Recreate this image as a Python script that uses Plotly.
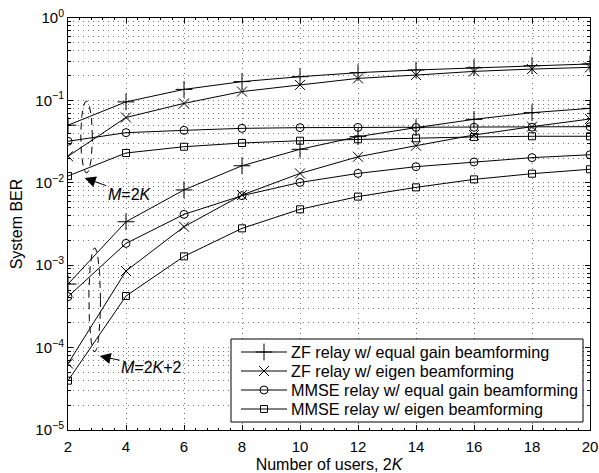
import numpy as np
import plotly.graph_objects as go

users = [2, 4, 6, 8, 10, 12, 14, 16, 18, 20]

# M = 2K (upper set)
zf_eq_a = [0.050, 0.096, 0.136, 0.169, 0.194, 0.217, 0.234, 0.249, 0.264, 0.277]
zf_eig_a = [0.021, 0.062, 0.092, 0.128, 0.154, 0.185, 0.203, 0.225, 0.240, 0.252]
mm_eq_a = [0.0319, 0.0406, 0.0433, 0.0458, 0.0467, 0.0470, 0.0470, 0.0472, 0.0473, 0.0480]
mm_eig_a = [0.0121, 0.0230, 0.0274, 0.0304, 0.0324, 0.0337, 0.0347, 0.0360, 0.0367, 0.0367]

# M = 2K+2 (lower set)
zf_eq_b = [5.9e-4, 3.37e-3, 8.2e-3, 0.0161, 0.0255, 0.0363, 0.0467, 0.0589, 0.071, 0.080]
zf_eig_b = [6.4e-5, 8.5e-4, 2.93e-3, 7.1e-3, 0.013, 0.0207, 0.0282, 0.038, 0.048, 0.0595]
mm_eq_b = [4.15e-4, 1.84e-3, 4.14e-3, 6.98e-3, 0.0101, 0.013, 0.0157, 0.0179, 0.0202, 0.0219]
mm_eig_b = [3.97e-5, 4.23e-4, 1.28e-3, 2.8e-3, 4.77e-3, 6.8e-3, 8.8e-3, 0.011, 0.0129, 0.0146]

names = ["ZF relay w/ equal gain beamforming",
         "ZF relay w/ eigen beamforming",
         "MMSE relay w/ equal gain beamforming",
         "MMSE relay w/ eigen beamforming"]
symbols = ["cross-thin-open", "x-thin-open", "circle-open", "square-open"]
sizes = [12, 10, 8, 7]

y_ticks = [1e-5, 1e-4, 1e-3, 1e-2, 1e-1, 1]
y_ticktext = ["10<sup>−5</sup>", "10<sup>−4</sup>", "10<sup>−3</sup>",
              "10<sup>−2</sup>", "10<sup>−1</sup>", "10<sup>0</sup>"]
x_ticks = [2, 4, 6, 8, 10, 12, 14, 16, 18, 20]

FONT = "Liberation Sans, Arial, Helvetica, sans-serif"

# plot-area geometry (pixels) used to place the legend box
L, R, T, B = 68, 590, 18, 430
def fx(px):
    return (px - L) / (R - L)
def fy(py):
    return (B - py) / (B - T)

fig = go.Figure()

series_a = [zf_eq_a, zf_eig_a, mm_eq_a, mm_eig_a]
series_b = [zf_eq_b, zf_eig_b, mm_eq_b, mm_eig_b]
for i in range(4):
    mk = dict(symbol=symbols[i], size=sizes[i], color="black",
              line=dict(color="black", width=1))
    for ser in (series_a[i], series_b[i]):
        fig.add_trace(go.Scatter(x=users, y=ser, mode="lines+markers",
                                 name=names[i], showlegend=False,
                                 line=dict(color="black", width=1), marker=mk))

# dashed ellipses marking the two groups
def ellipse(cx, cy_log, a, b_log):
    t = np.linspace(0, 2 * np.pi, 120)
    return cx + a * np.cos(t), 10 ** (cy_log + b_log * np.sin(t))

for (cx, cy, a, b) in [(2.64, -1.444, 0.2, 0.437), (2.92, -3.42, 0.2, 0.63)]:
    ex, ey = ellipse(cx, cy, a, b)
    fig.add_trace(go.Scatter(x=ex, y=ey, mode="lines", showlegend=False,
                             hoverinfo="skip",
                             line=dict(color="black", width=1, dash="7px,5px")))

# legend drawn on an overlay axis pair spanning the plot area (0..1)
bx0, bx1, by0, by1 = fx(231), fx(583), fy(422), fy(339)
fig.add_trace(go.Scatter(x=[bx0, bx1, bx1, bx0, bx0], y=[by0, by0, by1, by1, by0],
                         xaxis="x2", yaxis="y2", mode="lines", fill="toself",
                         fillcolor="white", line=dict(color="black", width=1),
                         showlegend=False, hoverinfo="skip"))
row_py = [352, 371, 390, 409]
lx0, lx1 = fx(241), fx(287)
lxm = (lx0 + lx1) / 2
for i in range(4):
    ry = fy(row_py[i])
    fig.add_trace(go.Scatter(x=[lx0, lx1], y=[ry, ry], xaxis="x2", yaxis="y2",
                             mode="lines", line=dict(color="black", width=1),
                             showlegend=False, hoverinfo="skip"))
    fig.add_trace(go.Scatter(x=[lxm], y=[ry], xaxis="x2", yaxis="y2",
                             mode="markers", showlegend=False, hoverinfo="skip",
                             marker=dict(symbol=symbols[i], size=sizes[i],
                                         color="black",
                                         line=dict(color="black", width=1))))
    fig.add_annotation(x=fx(289), y=ry, xref="x2", yref="y2", text=names[i],
                       showarrow=False, xanchor="left", yanchor="middle",
                       font=dict(family=FONT, size=16.2, color="black"))

minor_vals = [k * 10.0 ** e for e in range(-5, 0) for k in range(2, 10)]
grid_dash = "1px,4px"
grid_col = "#777"

fig.update_layout(
    width=599, height=473, autosize=False,
    margin=dict(l=L, r=599 - R, t=T, b=473 - B),
    paper_bgcolor="white", plot_bgcolor="white",
    font=dict(family=FONT, size=15, color="black"),
    showlegend=False,
    xaxis=dict(range=[2, 20], tickvals=x_ticks, ticks="inside", ticklen=5,
               tickcolor="black", showline=True, linecolor="black", linewidth=1,
               mirror="ticks", showgrid=True, gridcolor=grid_col, gridwidth=1,
               griddash=grid_dash, zeroline=False, ticklabelstandoff=3,
               automargin=False, tickfont=dict(size=15),
               title=dict(text="Number of users, 2<i>K</i>", standoff=5,
                          font=dict(size=16)),
               minor=dict(dtick=0.4, tick0=2, ticks="inside", ticklen=2,
                          tickcolor="black", showgrid=False)),
    yaxis=dict(type="log", range=[-5, 0], tickvals=y_ticks, ticktext=y_ticktext,
               ticks="inside", ticklen=5, tickcolor="black", showline=True,
               linecolor="black", linewidth=1, mirror="ticks", showgrid=True,
               gridcolor=grid_col, gridwidth=1, griddash=grid_dash, zeroline=False,
               automargin=False, tickfont=dict(size=15),
               title=dict(text="System BER", standoff=8, font=dict(size=16)),
               minor=dict(tickmode="array", tickvals=minor_vals, ticks="inside",
                          ticklen=3, tickcolor="black", showgrid=True,
                          gridcolor=grid_col, gridwidth=1, griddash=grid_dash)),
    xaxis2=dict(overlaying="x", anchor="y2", range=[0, 1], visible=False,
                fixedrange=True),
    yaxis2=dict(overlaying="y", anchor="x2", range=[0, 1], visible=False,
                fixedrange=True),
)

fig.add_annotation(x=2.576, y=-1.942, xref="x", yref="y",
                   text="<i>M</i>=2<i>K</i>", showarrow=True, arrowhead=2,
                   arrowsize=2.2, arrowwidth=1, arrowcolor="black",
                   ax=45, ay=16, font=dict(family=FONT, size=16, color="black"))
fig.add_annotation(x=3.093, y=-4.102, xref="x", yref="y",
                   text="<i>M</i>=2<i>K</i>+2", showarrow=True, arrowhead=2,
                   arrowsize=2.2, arrowwidth=1, arrowcolor="black",
                   ax=52, ay=11, font=dict(family=FONT, size=16, color="black"))

fig.write_html("out.html", config={"displayModeBar": False},
               post_script="document.body.style.margin='0';document.body.style.overflow='hidden';")
